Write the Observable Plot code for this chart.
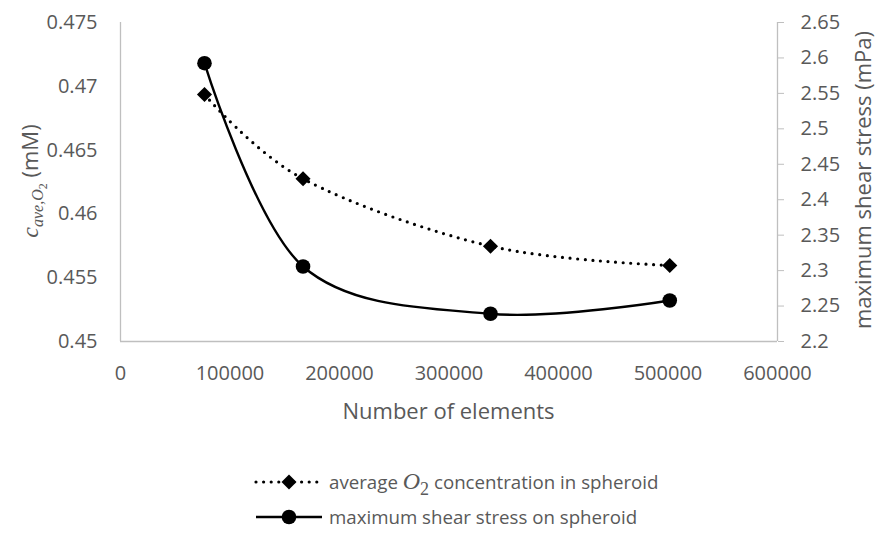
<!DOCTYPE html>
<html><head>
<meta charset="utf-8">
<script src="https://cdn.jsdelivr.net/npm/d3@7"></script>
<script src="https://cdn.jsdelivr.net/npm/@observablehq/plot@0.6"></script>
<style>
body{margin:0;background:#fff;font-family:"Open Sans",sans-serif}
#chart svg{display:block}
</style>
</head><body><div id="chart"></div><div id="legend"></div><script>
const elements = [76700, 166700, 337900, 501600];
const avgO2 = [0.46936, 0.46275, 0.45747, 0.45596];
const maxShear = [2.5926, 2.3058, 2.2391, 2.2578];
const leftTicks = [0.45, 0.455, 0.46, 0.465, 0.47, 0.475];
const rightTicks = [2.2, 2.25, 2.3, 2.35, 2.4, 2.45, 2.5, 2.55, 2.6, 2.65];
const xTicks = [0, 100000, 200000, 300000, 400000, 500000, 600000];

// map right-axis values onto the left-axis scale
const L0 = leftTicks[0], L1 = leftTicks[leftTicks.length-1];
const R0 = rightTicks[0], R1 = rightTicks[rightTicks.length-1];
const toLeft = v => L0 + (v - R0) * (L1 - L0) / (R1 - R0);
const toRight = v => R0 + (v - L0) * (R1 - R0) / (L1 - L0);

const data = elements.map((x, i) => ({x, o2: avgO2[i], shear: maxShear[i]}));
const grey = "#595959", axisGrey = "#bfbfbf";

const plot = Plot.plot({
  width: 878, height: 445,
  marginLeft: 120, marginRight: 101, marginTop: 22, marginBottom: 104,
  x: {domain: [xTicks[0], xTicks[xTicks.length-1]]},
  y: {domain: [L0, L1]},
  style: {fontFamily: "Open Sans", fontSize: "20px", color: grey, background: "white", overflow: "visible"},
  marks: [
    Plot.ruleX([xTicks[0], xTicks[xTicks.length-1]], {stroke: axisGrey, strokeWidth: 1.3}),
    Plot.ruleY([L0], {stroke: axisGrey, strokeWidth: 1.3}),
    Plot.axisY(leftTicks, {anchor: "left", tickSize: 0, tickPadding: 23, label: null, tickFormat: d => String(d), fontSize: 20}),
    Plot.axisY(rightTicks.map(toLeft), {anchor: "right", tickSize: 6, tickPadding: 17, label: null, stroke: axisGrey,
      tickFormat: d => String(+toRight(d).toFixed(2)), fontSize: 20, fill: grey}),
    Plot.axisX(xTicks, {anchor: "bottom", tickSize: 0, tickPadding: 24, label: null, tickFormat: d => String(d), fontSize: 20}),
    Plot.line(data, {x: "x", y: "o2", curve: "cardinal", stroke: "black", strokeWidth: 3.2,
      strokeDasharray: "0 7.6", strokeLinecap: "round"}),
    Plot.line(data, {x: "x", y: d => toLeft(d.shear), curve: "cardinal", stroke: "black", strokeWidth: 2.4}),
    Plot.dot(data, {x: "x", y: "o2", symbol: "diamond2", r: 6.8, fill: "black", stroke: "none"}),
    Plot.dot(data, {x: "x", y: d => toLeft(d.shear), symbol: "circle", r: 7.3, fill: "black", stroke: "none"})
  ]
});
document.getElementById("chart").appendChild(plot);

const svg = d3.select(plot);
// x axis title
svg.append("text").attr("x", 448.5).attr("y", 411).attr("dy", "0.35em")
  .attr("text-anchor", "middle").attr("fill", grey).style("font-size", "22px").text("Number of elements");
// left axis title
const lt = svg.append("text").attr("transform", "translate(30,181) rotate(-90)")
  .attr("text-anchor", "middle").attr("dy", "0.35em").attr("fill", grey).style("font-size", "22px");
lt.append("tspan").attr("font-style", "italic").attr("font-family", "Liberation Serif").style("font-size", "24px").text("c");
lt.append("tspan").attr("font-style", "italic").attr("font-family", "Liberation Serif").style("font-size", "16px").attr("dy", 5).text("ave,O");
lt.append("tspan").attr("font-family", "Liberation Serif").style("font-size", "12px").attr("dy", 4).text("2");
lt.append("tspan").attr("dy", -9).text(" (mM)");
// right axis title
svg.append("text").attr("transform", "translate(863,180) rotate(-90)")
  .attr("text-anchor", "middle").attr("dy", "0.35em").attr("fill", grey).style("font-size", "22px")
  .text("maximum shear stress (mPa)");

// legend
const lg = d3.select("#legend").append("svg").attr("width", 878).attr("height", 88)
  .style("font-family", "Open Sans").style("font-size", "18.7px");
const rows = [
  {y: 37, dotted: true, label: "avg"},
  {y: 72, dotted: false, label: "maximum shear stress on spheroid"}
];
rows.forEach(r => {
  lg.append("line").attr("x1", 256).attr("x2", 322).attr("y1", r.y).attr("y2", r.y)
    .attr("stroke", "black").attr("stroke-width", r.dotted ? 3.2 : 2.4)
    .attr("stroke-dasharray", r.dotted ? "0 7.6" : null).attr("stroke-linecap", r.dotted ? "round" : "butt");
  if (r.dotted) {
    const s = 7.5;
    lg.append("path").attr("d", `M289,${r.y-s}L${289+s},${r.y}L289,${r.y+s}L${289-s},${r.y}Z`).attr("fill", "black");
  } else {
    lg.append("circle").attr("cx", 289).attr("cy", r.y).attr("r", 7.3).attr("fill", "black");
  }
  const t = lg.append("text").attr("x", 329).attr("y", r.y).attr("dy", "0.35em").attr("fill", grey);
  if (r.dotted) {
    t.append("tspan").text("average ");
    t.append("tspan").attr("font-family", "Liberation Serif").attr("font-style", "italic").style("font-size", "24px").text("O");
    t.append("tspan").attr("font-family", "Liberation Serif").style("font-size", "18px").attr("dy", 6).text("2");
    t.append("tspan").attr("dy", -6).text(" concentration in spheroid");
  } else {
    t.text(r.label);
  }
});
</script></body></html>
